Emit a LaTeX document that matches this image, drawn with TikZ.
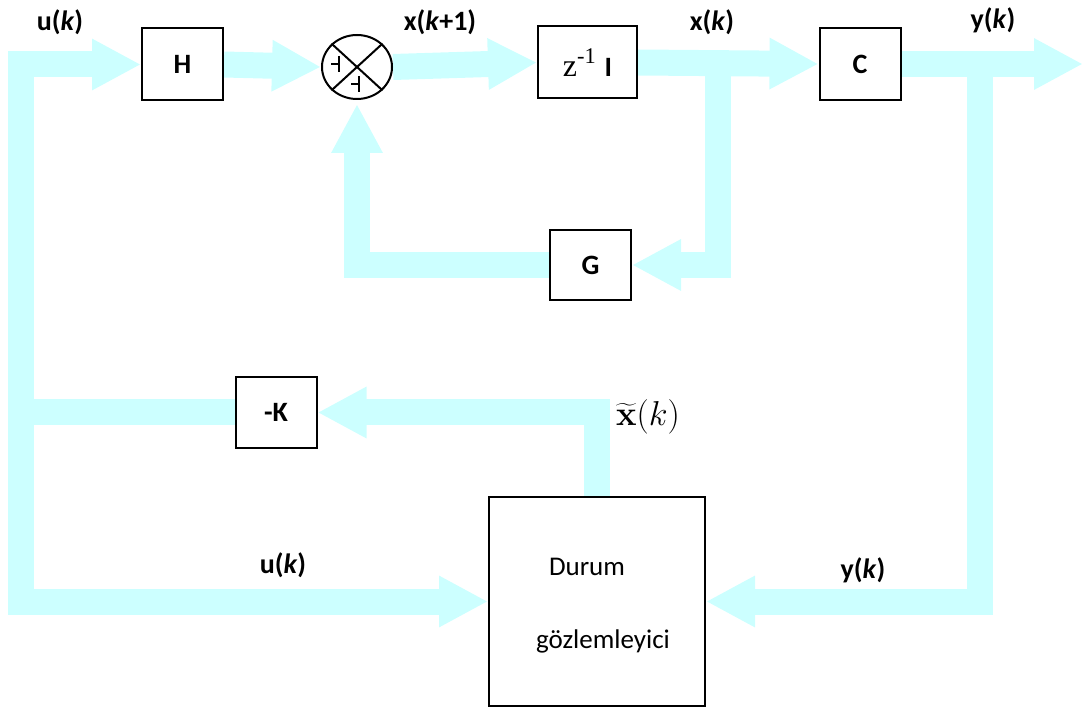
\documentclass[tikz,border=0pt]{standalone}
\usepackage[no-math]{fontspec}
\setmainfont{Carlito}
\newfontfamily\timesfont{Liberation Serif}
\usetikzlibrary{arrows.meta,calc,shapes.geometric,backgrounds}
\definecolor{flowcyan}{RGB}{204,255,255}

\begin{document}
\begin{tikzpicture}[x=0.5pt, y=-0.5pt,
  flow/.style={line width=13pt, flowcyan, -{Triangle[width=24pt,length=24.5pt]}},
  block/.style={draw, line width=1pt, fill=white, inner sep=0pt,
    minimum width=40.5pt, minimum height=36pt,
    font=\fontsize{14}{16}\selectfont\bfseries},
  sig/.style={font=\fontsize{14}{16}\selectfont\bfseries}]

\useasboundingbox (0,0) rectangle (1083,711);

% blocks
\node[block] (H) at (182.5,64.5) {H};
\node[draw, ellipse, line width=1pt, inner sep=0pt,
  minimum width=35pt, minimum height=32pt] (sum) at (357,67) {};
\node[block, minimum width=49.5pt] (z) at (587.5,62.5)
  {{\timesfont\mdseries\fontsize{16}{18}\selectfont z\textsuperscript{-1}}\hspace{4pt}I};
\node[block] (C) at (860,64) {C};
\node[block, minimum height=35pt] (G) at (590.5,265) {G};
\node[block, minimum height=35.5pt] (K) at (276,412.5) {-K};
\node[draw, line width=1pt, minimum width=108pt, minimum height=104.5pt] (D) at (597,601.5) {};
\node[font=\fontsize{13.5}{15}\selectfont] (d1) at (587,567) {Durum};
\node[font=\fontsize{13.5}{15}\selectfont] (d2) at (603,641) {gözlemleyici};

% summing junction
\draw[line width=1pt] (sum.north west) -- (sum.south east)
  (sum.north east) -- (sum.south west);
\foreach \dx/\dy in {-18/-3, 2/17}
  \draw[line width=0.7pt] ($(sum.center)+(\dx,\dy-8)$) -- ++(0,16)
    ($(sum.center)+(\dx,\dy)$) -- ++(-8,0);

% signal names
\node[sig] (u1) at (60,22) {u(\textit{k})};
\node[sig] (x1) at (440,22) {x(\textit{k}+1)};
\node[sig] (x0) at (712,22) {x(\textit{k})};
\node[sig] (y1) at (993,20) {y(\textit{k})};
\node[sig] (u2) at (283,565) {u(\textit{k})};
\node[sig] (y2) at (863,570) {y(\textit{k})};
\node[font=\fontsize{16}{18}\selectfont, inner sep=1pt] (xh) at (648,417) {$\widetilde{\mathbf{x}}(k)$};

\coordinate (xb) at (718,64);
\coordinate (yb) at (980,64);
\coordinate (ub) at (21,412.5);
\coordinate (out) at (1083,64);

% wide flow arrows
\begin{scope}[on background layer]
\draw[flow] (K.west) -- (ub) |- (H.west);
\draw[flow] (ub) |- (D.west);
\draw[flow] (H.east) -- (sum.west);
\draw[flow] (sum.east) -- (z.west);
\draw[flow] (z.east) -- (C.west);
\draw[flow] (C.east) -- (out);
\draw[flow] (xb) |- (G.east);
\draw[flow, shorten >=2pt] (G.west) -| (sum.south);
\draw[flow] (yb) |- (D.east);
\draw[flow] (D.north) |- (K.east);
\end{scope}

\end{tikzpicture}
\end{document}
